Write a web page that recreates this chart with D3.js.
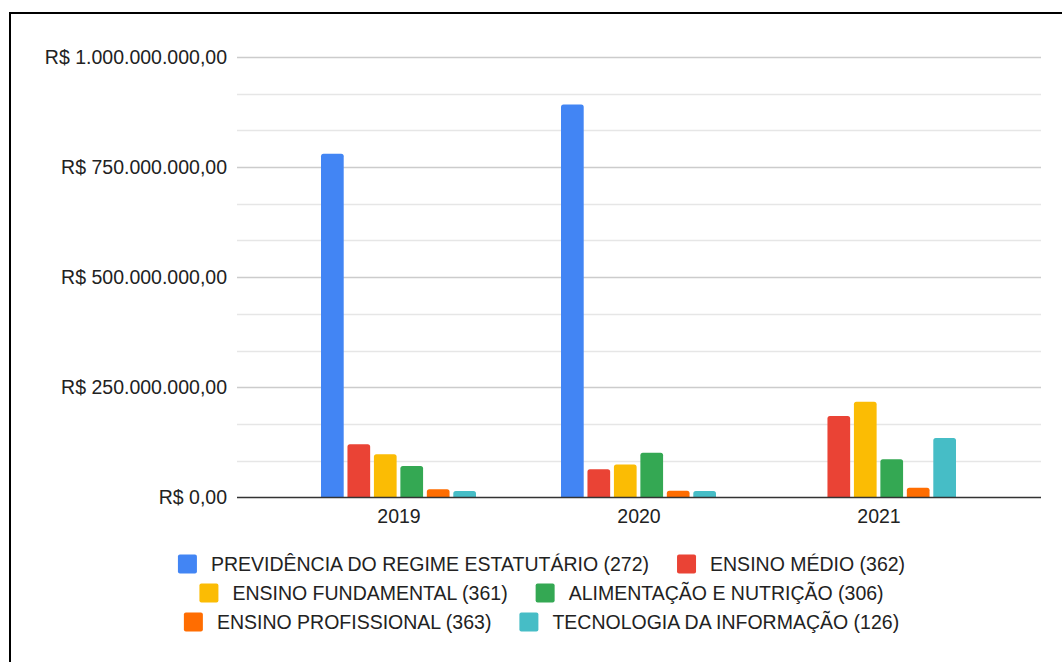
<!DOCTYPE html>
<html>
<head>
<meta charset="utf-8">
<script src="https://cdn.jsdelivr.net/npm/d3@7"></script>
<style>
  html, body { margin: 0; padding: 0; background: #fff; }
  svg { display: block; }
  text { font-family: "Liberation Sans", Arial, sans-serif; fill: #222; }
</style>
</head>
<body>
<svg id="chart" width="1062" height="662"></svg>
<script>
const years = ["2019", "2020", "2021"];
const seriesNames = [
  "PREVIDÊNCIA DO REGIME ESTATUTÁRIO (272)",
  "ENSINO MÉDIO (362)",
  "ENSINO FUNDAMENTAL (361)",
  "ALIMENTAÇÃO E NUTRIÇÃO (306)",
  "ENSINO PROFISSIONAL (363)",
  "TECNOLOGIA DA INFORMAÇÃO (126)"
];
const seriesColors = ["#4285F4", "#EA4335", "#FBBC04", "#34A853", "#FF6D01", "#46BDC6"];
// values per series, one per year (2019, 2020, 2021)
const previdencia   = [780000000, 892000000, null];
const ensinoMedio   = [120700000, 64000000, 185000000];
const ensinoFund    = [98000000, 75000000, 217000000];
const alimentacao   = [71500000, 101700000, 86700000];
const ensinoProf    = [18600000, 15400000, 22000000];
const tecnologia    = [14700000, 14700000, 135000000];
const seriesValues = [previdencia, ensinoMedio, ensinoFund, alimentacao, ensinoProf, tecnologia];
const yMajorTicks = [0, 250000000, 500000000, 750000000, 1000000000];
const yMax = 1000000000;

(function () {
const FS = "19.5px";
const svg = d3.select("#chart");

// outer border (only top and left visible)
svg.append("path")
  .attr("d", "M10,700 L10,13 L1100,13")
  .attr("fill", "none").attr("stroke", "#000").attr("stroke-width", 2);

const pLeft = 237, pRight = 1041, pTop = 56.8, pBottom = 497.5;
const y = d3.scaleLinear().domain([0, yMax]).range([pBottom, pTop]);
const x0 = d3.scaleBand().domain(years).range([pLeft, pRight]).paddingInner(0).paddingOuter(0.175);
const x1 = d3.scaleBand().domain(d3.range(seriesNames.length)).range([42, 197]).paddingInner(0.142).paddingOuter(0);

const locale = d3.formatLocale({decimal: ",", thousands: ".", grouping: [3], currency: ["R$ ", ""]});
const fmt = locale.format("$,.2f");

// gridlines (minor every 1/12)
const minor = d3.range(0, 13).map(i => yMax * i / 12);
svg.append("g").selectAll("line").data(minor.filter(v => v > 0)).join("line")
  .attr("x1", pLeft).attr("x2", pRight)
  .attr("y1", d => Math.round(y(d)) + 0.5).attr("y2", d => Math.round(y(d)) + 0.5)
  .attr("stroke", d => yMajorTicks.some(t => Math.abs(t - d) < 1) ? "#cccccc" : "#e6e6e6")
  .attr("stroke-width", 1.5);

// y labels
const yAxis = d3.axisLeft(y).tickValues(yMajorTicks).tickFormat(fmt).tickSize(0).tickPadding(10);
const gy = svg.append("g").attr("transform", `translate(${pLeft},0)`).call(yAxis);
gy.select(".domain").remove();
gy.selectAll("text").attr("font-size", FS).attr("fill", "#222")
  .attr("font-family", "'Liberation Sans', Arial, sans-serif");

// bars
function topRounded(x, yTop, w, h, r) {
  r = Math.min(r, h, w / 2);
  return `M${x},${yTop + h} L${x},${yTop + r} Q${x},${yTop} ${x + r},${yTop} L${x + w - r},${yTop} Q${x + w},${yTop} ${x + w},${yTop + r} L${x + w},${yTop + h} Z`;
}
const barData = [];
years.forEach((yr, yi) => {
  seriesValues.forEach((vals, si) => {
    if (vals[yi] != null) barData.push({yr, si, v: vals[yi]});
  });
});
svg.append("g").selectAll("path").data(barData).join("path")
  .attr("d", d => {
    const bx = x0(d.yr) + x1(d.si);
    const by = y(d.v);
    return topRounded(bx, by, x1.bandwidth(), pBottom - by, 2.5);
  })
  .attr("fill", d => seriesColors[d.si]);

// baseline axis
const xAxis = d3.axisBottom(x0).tickSize(0).tickPadding(12);
const gx = svg.append("g").attr("transform", `translate(0,${pBottom})`).call(xAxis);
gx.select(".domain").attr("stroke", "#333").attr("stroke-width", 1.5).attr("d", `M${pLeft},0H${pRight}`);
gx.selectAll("text").attr("font-size", FS).attr("fill", "#222")
  .attr("font-family", "'Liberation Sans', Arial, sans-serif").attr("dy", "0.71em");

// legend
const rows = [[0, 1], [2, 3], [4, 5]];
const rowY = [564, 593, 622];
const legendCenter = 541.5;
const sw = 19, swGap = 33, itemGap = 28;
const lg = svg.append("g");
rows.forEach((row, ri) => {
  const g = lg.append("g");
  let cx = 0;
  row.forEach(si => {
    g.append("rect").attr("x", cx).attr("y", rowY[ri] - sw / 2).attr("width", sw).attr("height", sw)
      .attr("rx", 2).attr("fill", seriesColors[si]);
    const t = g.append("text").attr("x", cx + swGap).attr("y", rowY[ri]).attr("dy", "0.36em")
      .attr("font-size", FS).text(seriesNames[si]);
    cx += swGap + t.node().getComputedTextLength() + itemGap;
  });
  const total = cx - itemGap;
  g.attr("transform", `translate(${legendCenter - total / 2},0)`);
});
})();
</script>
</body>
</html>
